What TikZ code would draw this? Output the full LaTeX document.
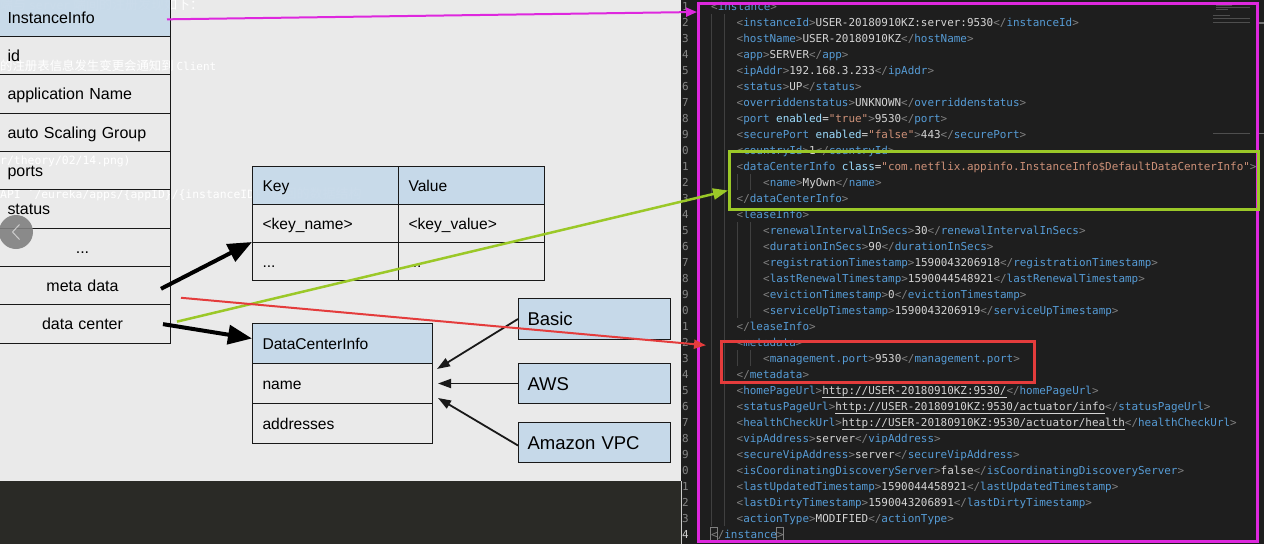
\documentclass[tikz,border=0pt]{standalone}
\usepackage{fontspec}
\setmainfont{Liberation Sans}
\newfontfamily\codefont{DejaVu Sans Mono}
\newfontfamily\cjkfont{Noto Sans CJK SC}
\usetikzlibrary{arrows.meta}
\definecolor{bgc}{RGB}{234,234,234}
\definecolor{darkc}{RGB}{42,42,38}
\definecolor{edc}{RGB}{30,30,30}
\definecolor{hdc}{RGB}{198,217,233}
\definecolor{linec}{RGB}{25,25,25}
\definecolor{magc}{RGB}{222,40,222}
\definecolor{grnc}{RGB}{155,200,40}
\definecolor{redc}{RGB}{228,60,60}
\definecolor{numc}{RGB}{133,133,133}
\definecolor{brc}{RGB}{128,128,128}
\definecolor{tagc}{RGB}{86,156,214}
\definecolor{attc}{RGB}{156,220,254}
\definecolor{strc}{RGB}{206,145,120}
\definecolor{txtc}{RGB}{212,212,212}
\definecolor{guidec}{RGB}{64,64,64}
\definecolor{minic}{RGB}{78,78,78}
\definecolor{ghostc}{RGB}{255,255,255}
\newcommand{\xmlo}[1]{\textcolor{brc}{<}\textcolor{tagc}{#1}\textcolor{brc}{>}}
\newcommand{\xmlc}[1]{\textcolor{brc}{</}\textcolor{tagc}{#1}\textcolor{brc}{>}}
\newcommand{\xmlt}[1]{\textcolor{txtc}{#1}}
\newcommand{\xmle}[2]{\xmlo{#1}\xmlt{#2}\xmlc{#1}}
\newcommand{\xmlb}[1]{\textcolor{brc}{<}\textcolor{tagc}{#1}}
\newcommand{\xmlat}[2]{\space\textcolor{attc}{#1}\textcolor{txtc}{=}\textcolor{strc}{#2}}
\newcommand{\xmlg}{\textcolor{brc}{>}}
\tikzset{
  lrow/.style={draw=linec, line width=1pt, anchor=north west, text width=150pt, inner xsep=13pt, inner ysep=0pt, minimum height=38.35pt, text height=11.5pt, text depth=0pt, align=left, font=\fontsize{16}{19}\selectfont},
  lrowc/.style={lrow, align=center},
  hdr/.style={fill=hdc},
  kcell/.style={draw=linec, line width=1pt, anchor=north west, text width=126pt, inner xsep=10pt, inner ysep=0pt, minimum height=38pt, text height=11.2pt, text depth=0pt, align=left, font=\fontsize{15.6}{18}\selectfont},
  dcell/.style={kcell, text width=160pt, minimum height=40pt},
  tbox/.style={draw=linec, line width=1pt, fill=hdc, anchor=north west, text width=134pt, inner xsep=9pt, inner ysep=0pt, minimum height=40pt, text height=13.3pt, text depth=0pt, align=left, font=\fontsize{18.5}{22}\selectfont},
  code/.style={anchor=base west, inner sep=0pt, text=txtc, font=\codefont\fontsize{10.93}{13}\selectfont},
  lnum/.style={code, text=numc},
  guide/.style={draw=guidec, line width=0.8pt},
  frame/.style={anchor=north west, inner sep=0pt, fill=none},
  blkarr/.style={draw=black, line width=4pt, -{Triangle[length=24pt,width=19pt]}},
  thinarr/.style={draw=black!90, line width=1.8pt, -{Triangle[length=13pt,width=9pt]}},
  grnarr/.style={draw=grnc, line width=2.5pt, -{Triangle[length=15pt,width=11pt]}},
  redarr/.style={draw=redc, line width=2pt, -{Triangle[length=12pt,width=9pt]}},
  magarr/.style={draw=magc, line width=2pt, -{Triangle[length=11pt,width=9pt]}},
  ghost/.style={anchor=west, inner sep=0pt, text=ghostc},
}
\begin{document}
\begin{tikzpicture}[x=1pt,y=-1pt]
\useasboundingbox (0,0) rectangle (1264,544);
\clip (0,0) rectangle (1264,544);
% backgrounds
\fill[bgc] (0,0) rectangle (681,481);
\fill[darkc] (0,481) rectangle (681,544);
\fill[edc] (681,0) rectangle (1264,544);
\draw[white!80!black, line width=1pt] (681,481) -- (681,544);
% line numbers
\foreach \k [evaluate=\k as \d using {int(mod(\k,10))}] in {1,...,33}
  \node[lnum] (n\k) at (682,{10+16*\k-16}) {\d};
\node[lnum, text=white!80!black] (n34) at (682,538) {4};
% indent guides
\draw[guide] (711.5,14) -- (711.5,526);
\draw[guide] (724.5,14) -- (724.5,526);
\draw[guide] (737.5,174) -- (737.5,190);
\draw[guide] (750.5,174) -- (750.5,190);
\draw[guide] (737.5,222) -- (737.5,318);
\draw[guide] (750.5,222) -- (750.5,318);
\draw[guide] (737.5,350) -- (737.5,366);
\draw[guide] (750.5,350) -- (750.5,366);
% code
\begin{scope}
\clip (681,0) rectangle (1255,544);
\node[code] (c1) at (711,10) {\xmlo{instance}};
\node[code] (c2) at (736.5,26) {\xmle{instanceId}{USER-20180910KZ:server:9530}};
\node[code] (c3) at (736.5,42) {\xmle{hostName}{USER-20180910KZ}};
\node[code] (c4) at (736.5,58) {\xmle{app}{SERVER}};
\node[code] (c5) at (736.5,74) {\xmle{ipAddr}{192.168.3.233}};
\node[code] (c6) at (736.5,90) {\xmle{status}{UP}};
\node[code] (c7) at (736.5,106) {\xmle{overriddenstatus}{UNKNOWN}};
\node[code] (c8) at (736.5,122) {\xmlb{port}\xmlat{enabled}{"true"}\xmlg\xmlt{9530}\xmlc{port}};
\node[code] (c9) at (736.5,138) {\xmlb{securePort}\xmlat{enabled}{"false"}\xmlg\xmlt{443}\xmlc{securePort}};
\node[code] (c10) at (736.5,154) {\xmle{countryId}{1}};
\node[code] (c11) at (736.5,170) {\xmlb{dataCenterInfo}\xmlat{class}{"com.netflix.appinfo.InstanceInfo\$DefaultDataCenterInfo"}\xmlg};
\node[code] (c12) at (763,186) {\xmle{name}{MyOwn}};
\node[code] (c13) at (736.5,202) {\xmlc{dataCenterInfo}};
\node[code] (c14) at (736.5,218) {\xmlo{leaseInfo}};
\node[code] (c15) at (763,234) {\xmle{renewalIntervalInSecs}{30}};
\node[code] (c16) at (763,250) {\xmle{durationInSecs}{90}};
\node[code] (c17) at (763,266) {\xmle{registrationTimestamp}{1590043206918}};
\node[code] (c18) at (763,282) {\xmle{lastRenewalTimestamp}{1590044548921}};
\node[code] (c19) at (763,298) {\xmle{evictionTimestamp}{0}};
\node[code] (c20) at (763,314) {\xmle{serviceUpTimestamp}{1590043206919}};
\node[code] (c21) at (736.5,330) {\xmlc{leaseInfo}};
\node[code] (c22) at (736.5,346) {\xmlo{metadata}};
\node[code] (c23) at (763,362) {\xmle{management.port}{9530}};
\node[code] (c24) at (736.5,378) {\xmlc{metadata}};
\node[code] (c25) at (736.5,394) {\xmle{homePageUrl}{\underline{http://USER-20180910KZ:9530/}}};
\node[code] (c26) at (736.5,410) {\xmle{statusPageUrl}{\underline{http://USER-20180910KZ:9530/actuator/info}}};
\node[code] (c27) at (736.5,426) {\xmle{healthCheckUrl}{\underline{http://USER-20180910KZ:9530/actuator/health}}};
\node[code] (c28) at (736.5,442) {\xmle{vipAddress}{server}};
\node[code] (c29) at (736.5,458) {\xmle{secureVipAddress}{server}};
\node[code] (c30) at (736.5,474) {\xmle{isCoordinatingDiscoveryServer}{false}};
\node[code] (c31) at (736.5,490) {\xmle{lastUpdatedTimestamp}{1590044458921}};
\node[code] (c32) at (736.5,506) {\xmle{lastDirtyTimestamp}{1590043206891}};
\node[code] (c33) at (736.5,522) {\xmle{actionType}{MODIFIED}};
\node[code] (c34) at (711,538) {\xmlc{instance}};
\end{scope}
% bracket match boxes
\draw[brc, line width=0.6pt] (710.5,527.5) rectangle (717.5,542.5);
\draw[brc, line width=0.6pt] (776.5,527.5) rectangle (783.5,542.5);
% minimap
\draw[minic, line width=1pt] (1213,3) -- (1224,3) (1216,5.5) -- (1232,5.5) (1216,7.5) -- (1250,7.5) (1216,9.5) -- (1228,9.5) (1213,15) -- (1230,15) (1213,18.5) -- (1250,18.5) (1213,22.5) -- (1250,22.5) (1213,133.5) -- (1250,133.5);
\draw[white!45!black, line width=1.2pt] (1259,23) -- (1264,23) (1259,133.5) -- (1264,133.5);
% highlight frames
\node[frame, draw=magc, line width=3pt, minimum width=559pt, minimum height=538pt] (magbox) at (697,2) {};
\node[frame, draw=grnc, line width=3pt, minimum width=529pt, minimum height=58pt] (greenbox) at (728,150) {};
\node[frame, draw=redc, line width=2.5pt, minimum width=313pt, minimum height=41pt] (redbox) at (720,340) {};
% ghost text of the page beneath (under the diagram)
\node[ghost] (g1) at (0,5) {\cjkfont\fontsize{13}{15}\selectfont 端与 {\codefont\fontsize{11.4}{14}\selectfont server} 端间的注册发现如下：};
\node[ghost] (g2) at (0,66) {\cjkfont\fontsize{12.4}{15}\selectfont 的注册表信息发生变更会通知到 {\codefont\fontsize{11}{14}\selectfont Client}};
\node[ghost] (g3) at (0,161) {\codefont\fontsize{11.4}{14}\selectfont r/theory/02/14.png)};
\node[ghost] (g4) at (0,194) {{\codefont\fontsize{11.4}{14}\selectfont API \textasciigrave/eureka/apps/\{appID\}/\{instanceID\}\textasciigrave} {\cjkfont\fontsize{13}{15}\selectfont 返回的数据结构}};
% InstanceInfo column
\node[lrow, hdr, fill opacity=0.92, text opacity=1] (iihead) at (-6,-2.35) {InstanceInfo};
\node[lrow] (rid) at (-6,36) {id};
\node[lrow] (rapp) at (-6,74.35) {application Name};
\node[lrow] (rasg) at (-6,112.7) {auto Scaling Group};
\node[lrow] (rports) at (-6,151.05) {ports};
\node[lrow] (rstatus) at (-6,189.4) {status};
\node[lrowc] (rdots) at (-6,227.75) {...};
\node[lrowc] (metadata) at (-6,266.1) {meta data};
\node[lrowc] (datacenter) at (-6,304.45) {data center};
% key/value table
\node[kcell, hdr, fill opacity=0.92, text opacity=1] (khead) at (252,166) {Key};
\node[kcell, hdr] (vhead) at (398,166) {Value};
\node[kcell] (kname) at (252,204) {<key\_name>};
\node[kcell] (vname) at (398,204) {<key\_value>};
\node[kcell] (kdots) at (252,242) {...};
\node[kcell] (vdots) at (398,242) {...};
% DataCenterInfo
\node[dcell, hdr] (dchead) at (252,323) {DataCenterInfo};
\node[dcell] (dcname) at (252,363) {name};
\node[dcell] (dcaddr) at (252,403) {addresses};
% implementations
\node[tbox, minimum height=41pt] (basic) at (518,298) {Basic};
\node[tbox] (aws) at (518,363) {AWS};
\node[tbox] (vpc) at (518,422) {Amazon VPC};
% black arrows
\draw[blkarr] ([shift={(-10pt,-3pt)}]metadata.east) -- (kdots.north west);
\draw[blkarr] ([xshift=-8pt]datacenter.east) -- ([yshift=5pt]dchead.west);
\draw[thinarr] (basic.west) -- ([shift={(4pt,-6pt)}]dcname.north east);
\draw[thinarr] (aws.west) -- ([xshift=5pt]dcname.east);
\draw[thinarr] ([yshift=-3pt]vpc.west) -- ([shift={(5pt,6pt)}]dcname.south east);
% coloured arrows
\draw[grnarr] ([shift={(6pt,2.5pt)}]datacenter.east) -- ([yshift=-10pt]greenbox.west);
\draw[redarr] ([shift={(10pt,-12pt)}]metadata.east) -- ([shift={(-14pt,16.5pt)}]redbox.west);
\draw[magarr] ([shift={(-4pt,-2pt)}]iihead.east) -- ([yshift=-10pt]magbox.north west);
% page button
\fill[black!50, opacity=0.9] (16,232) circle (17);
\draw[white!80!black, line width=1pt] (19.5,224.5) -- (12.5,232) -- (19.5,239.5);
\end{tikzpicture}
\end{document}
